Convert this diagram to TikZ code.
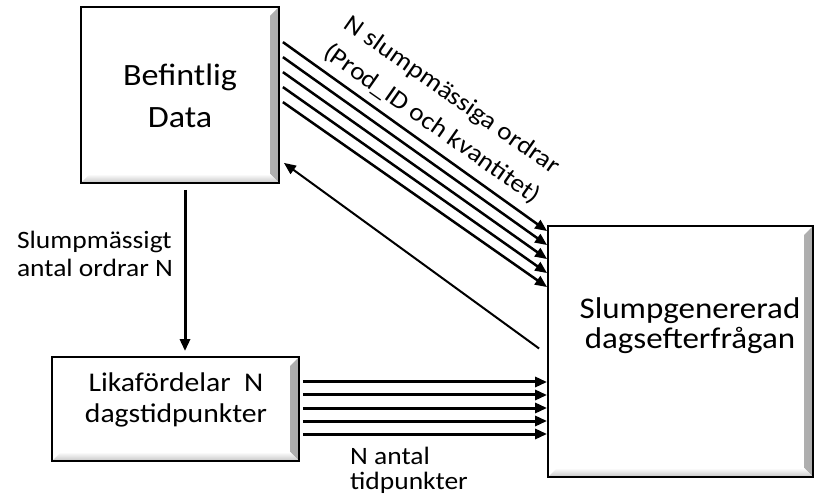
\documentclass[tikz,border=0pt]{standalone}
\usepackage{fontspec}
\setmainfont{Carlito}[FakeStretch=1.1]
\usetikzlibrary{arrows.meta}

\begin{document}
\begin{tikzpicture}[x=1pt, y=-1pt, -{Triangle[length=12pt,width=10pt]}, line width=2.5pt,
      every node/.append style={inner sep=0pt}]
    \tikzstyle{word} = [font=\fontsize{25}{28}\selectfont, align=center]
    \tikzstyle{box} = [draw, line width=1.8pt, path picture={
        \shade[left color=white, right color=gray!65]
          ([xshift=-9pt,yshift=-9pt]path picture bounding box.north east) -- (path picture bounding box.north east)
          -- (path picture bounding box.south east) -- ([xshift=-9pt,yshift=9pt]path picture bounding box.south east) -- cycle;
        \shade[top color=white, bottom color=gray!45]
          ([xshift=9pt,yshift=9pt]path picture bounding box.south west) -- ([xshift=-9pt,yshift=9pt]path picture bounding box.south east)
          -- (path picture bounding box.south east) -- (path picture bounding box.south west) -- cycle;
      }]
    \useasboundingbox (0,0) rectangle (817,494);
    % the three boxes
    \node (data) [box, minimum width=198pt, minimum height=176pt] at (180,95) {};
    \node (lika) [box, minimum width=247pt, minimum height=104pt] at (175.5,409) {};
    \node (slump) [box, minimum width=265pt, minimum height=251pt] at (680.5,351.5) {};
    \node (datatext) [word, font=\fontsize{31}{42}\selectfont] at (180,96) {Befintlig\\Data};
    \node (likatext) [word, font=\fontsize{27}{31}\selectfont] at (176,400) {Likafördelar\ \ N\\dagstidpunkter};
    \node (slumptext) [word, font=\fontsize{30}{30}\selectfont] at (690,326) {Slumpgenererad\\dagsefterfrågan};
    % labels
    \node (antal) [word, align=left] at (95,254) {Slumpmässigt\\antal ordrar N};
    \node (tid) [word, align=left, font=\fontsize{25}{25}\selectfont] at (409,470) {N antal\\tidpunkter};
    \node (ordrar) [word, rotate=-35, font=\fontsize{25}{35}\selectfont] at (442,110) {N slumpmässiga ordrar\\(Prod\_ID och kvantitet)};
    % arrows
    \foreach \i in {0,...,4}
      \draw ([xshift=3pt,yshift=-36pt-15pt*\i]data.north east) -- ([yshift=-6pt-14pt*\i]slump.north west);
    \draw [line width=2pt] ([xshift=-8pt,yshift=3pt]slump.west) -- ([xshift=4pt,yshift=21pt]data.south east);
    \draw [line width=3pt, shorten >=5pt] ([xshift=5pt,yshift=-6pt]data.south) -- ([xshift=5pt]data.south |- lika.north);
    \foreach \i in {0,...,4}
      \draw [line width=3pt] ([xshift=3pt,yshift=27pt-13pt*\i]lika.east) -- ([yshift=27pt-13pt*\i]lika.east -| slump.west);
\end{tikzpicture}
\end{document}
